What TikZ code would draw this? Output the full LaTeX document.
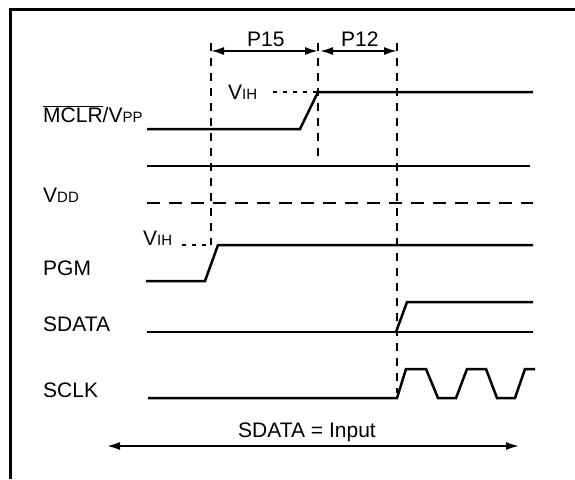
\documentclass[tikz,border=0pt]{standalone}
\usepackage{fontspec}
\setmainfont{Liberation Sans}
\usetikzlibrary{arrows.meta}

\newcommand\lowcap[1]{{\fontsize{15}{15}\selectfont #1}}

\begin{document}
\begin{tikzpicture}[x=1pt, y=-1pt,
    every node/.style = {font=\fontsize{21}{24}\selectfont, text=black,
      inner sep=0pt, anchor=base west},
    signal/.style = {draw, line width=2.5pt},
    marker/.style = {draw, line width=2.6pt, dash pattern=on 8pt off 7pt},
    supply/.style = {draw, line width=2.5pt, dash pattern=on 13pt off 9pt},
    level/.style = {draw, line width=2.2pt, dash pattern=on 4pt off 6pt},
    span/.style = {draw, line width=1.8pt,
      {Latex[length=13pt,width=8pt]}-{Latex[length=13pt,width=8pt]}}]
  \useasboundingbox (0,0) rectangle (575,479);
  \draw[line width=3pt] (10,479) |- (575,9);

  % timing markers
  \coordinate (t0) at (211,43);
  \coordinate (t1) at (318,43);
  \coordinate (t2) at (397,43);
  \draw[marker] (t0) -- (211,245);
  \draw[marker] (t1) -- (318,158);
  \draw[marker] (t2) -- (397,393);
  \draw[span] ([yshift=-8pt]t0) -- ([yshift=-8pt]t1);
  \draw[span] ([xshift=2pt,yshift=-8pt]t1) -- ([yshift=-8pt]t2);
  \node (p15) at (247,46) {P15};
  \node (p12) at (341,46) {P12};

  % signal names
  \node (mclr)  at (43,122) {$\overline{\mbox{MCLR}}$/V\lowcap{PP}};
  \node (vdd)   at (43,202) {V\lowcap{DD}};
  \node (pgm)   at (43,275) {PGM};
  \node (sdata) at (43,331) {SDATA};
  \node (sclk)  at (43,397) {SCLK};
  \node (vih1)  at (228,99) {V\lowcap{IH}};
  \node (vih2)  at (143,245) {V\lowcap{IH}};

  % MCLR/VPP
  \draw[level] (273,92) -- (318,92);
  \draw[signal] (147,129) -- (300,129) -- (318,92) -- (533,92);
  \draw[signal] (147,166) -- (530,166);
  % VDD
  \draw[supply] (147,203) -- (533,203);
  % PGM
  \draw[level] (182,245) -- (211,245);
  \draw[signal] (146,281) -- (205,281) -- (218,245) -- (533,245);
  % SDATA
  \draw[signal] (147,332) -- (533,332);
  \draw[signal] (396,332) -- (407,302) -- (533,302);
  % SCLK
  \draw[signal] (148,398) -- (397,398) -- (406,369) -- (426,369)
    -- (438,398) -- (456,398) -- (467,369) -- (486,369) -- (497,398)
    -- (515,398) -- (525,369) -- (535,369);

  \node[anchor=base] (input) at (307,437) {SDATA = Input};
  \coordinate (i0) at (107,446);
  \coordinate (i1) at (519,446);
  \draw[span] (i0) -- (i1);
\end{tikzpicture}
\end{document}
